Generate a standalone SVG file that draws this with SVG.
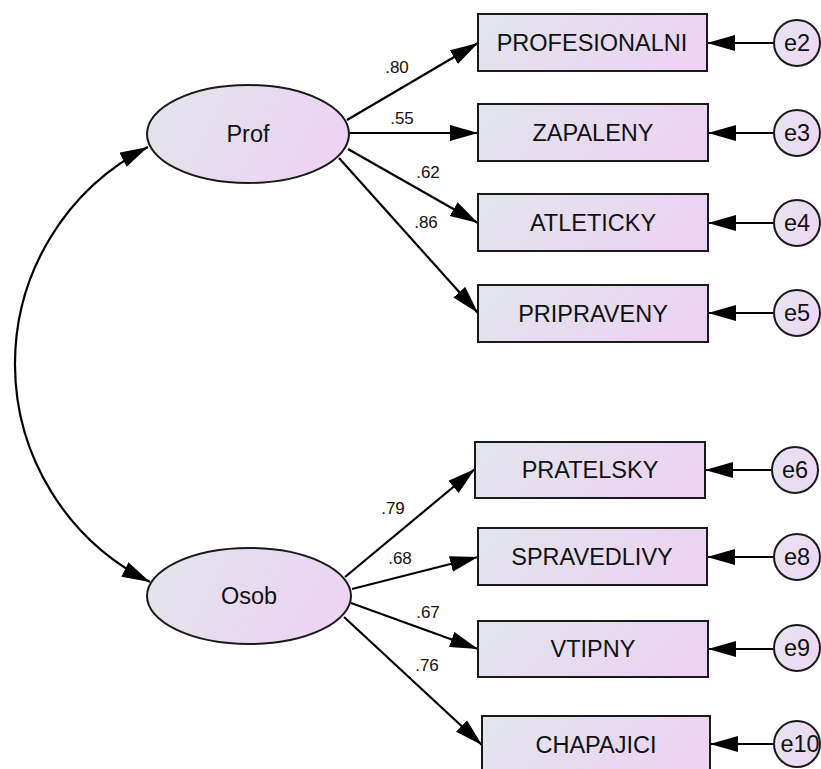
<svg xmlns="http://www.w3.org/2000/svg" width="821" height="769" viewBox="0 0 821 769">
<defs>
<linearGradient id="g" x1="0" y1="0" x2="1" y2="0.25">
<stop offset="0" stop-color="#e1e5ec"/>
<stop offset="1" stop-color="#ecd4f2"/>
</linearGradient>
<linearGradient id="gc" x1="0" y1="0" x2="1" y2="0.3">
<stop offset="0" stop-color="#e6e4f0"/>
<stop offset="1" stop-color="#eed8f4"/>
</linearGradient>
<marker id="ah" markerUnits="userSpaceOnUse" markerWidth="30" markerHeight="18" refX="28" refY="8" orient="auto-start-reverse">
<path d="M0,0 L28,8 L0,16 z" fill="#000"/>
</marker>
<style>
.n{fill:url(#g);stroke:#1a1a1a;stroke-width:2}
.c{fill:url(#gc);stroke:#1a1a1a;stroke-width:2}
.t{font-family:"Liberation Sans",Arial,sans-serif;font-size:23.5px;fill:#111;text-anchor:middle}
.l{font-family:"Liberation Sans",Arial,sans-serif;font-size:17px;fill:#111;text-anchor:middle}
.e{stroke:#000;stroke-width:2.2;fill:none;marker-end:url(#ah)}
</style>
</defs>
<rect width="821" height="769" fill="#fff"/>
<g id="connectors">
<path class="e" d="M347,120 L478,43"/>
<path class="e" d="M349,133 L478,133"/>
<path class="e" d="M348,149 L478,223"/>
<path class="e" d="M339,158 L478,313"/>
<path class="e" d="M345,577 L475,469"/>
<path class="e" d="M352,589 L478,557"/>
<path class="e" d="M351,603 L478,649"/>
<path class="e" d="M344,617 L482,745"/>
<path class="e" style="marker-start:url(#ah)" d="M148,147 A243.5,243.5 0 0 0 150,582"/>
<path class="e" d="M774,43 L707,43"/>
<path class="e" d="M774,133 L708,133"/>
<path class="e" d="M774,223 L708,223"/>
<path class="e" d="M774,313 L708,313"/>
<path class="e" d="M772,470 L705,470"/>
<path class="e" d="M774,557 L707,557"/>
<path class="e" d="M774,649 L708,649"/>
<path class="e" d="M774,744 L710,744"/>
<text class="l" x="397" y="73">.80</text>
<text class="l" x="402" y="124">.55</text>
<text class="l" x="428" y="178">.62</text>
<text class="l" x="426" y="228">.86</text>
<text class="l" x="393" y="514">.79</text>
<text class="l" x="400" y="564">.68</text>
<text class="l" x="428" y="618">.67</text>
<text class="l" x="427" y="671">.76</text>
</g>
<g id="Prof"><ellipse class="n" cx="248" cy="134" rx="101" ry="49"/><text class="t" x="248" y="142">Prof</text></g>
<g id="Osob"><ellipse class="n" cx="249" cy="596" rx="102" ry="48"/><text class="t" x="249" y="604">Osob</text></g>
<g id="PROFESIONALNI"><rect class="n" x="478" y="14" width="229" height="57"/><text class="t" x="592" y="51">PROFESIONALNI</text></g>
<g id="ZAPALENY"><rect class="n" x="478" y="104" width="230" height="57"/><text class="t" x="593" y="141">ZAPALENY</text></g>
<g id="ATLETICKY"><rect class="n" x="478" y="194" width="230" height="57"/><text class="t" x="593" y="231">ATLETICKY</text></g>
<g id="PRIPRAVENY"><rect class="n" x="478" y="285" width="230" height="57"/><text class="t" x="593" y="322">PRIPRAVENY</text></g>
<g id="PRATELSKY"><rect class="n" x="475" y="442" width="230" height="56"/><text class="t" x="590" y="478">PRATELSKY</text></g>
<g id="SPRAVEDLIVY"><rect class="n" x="478" y="528" width="229" height="57"/><text class="t" x="592" y="565">SPRAVEDLIVY</text></g>
<g id="VTIPNY"><rect class="n" x="478" y="621" width="230" height="56"/><text class="t" x="593" y="657">VTIPNY</text></g>
<g id="CHAPAJICI"><rect class="n" x="482" y="716" width="228" height="57"/><text class="t" x="596" y="753">CHAPAJICI</text></g>
<g id="e2"><circle class="c" cx="797" cy="43" r="23"/><text class="t" x="797" y="51">e2</text></g>
<g id="e3"><circle class="c" cx="797" cy="133" r="23"/><text class="t" x="797" y="141">e3</text></g>
<g id="e4"><circle class="c" cx="797" cy="223" r="23"/><text class="t" x="797" y="231">e4</text></g>
<g id="e5"><circle class="c" cx="797" cy="313" r="23"/><text class="t" x="797" y="321">e5</text></g>
<g id="e6"><circle class="c" cx="795" cy="470" r="23"/><text class="t" x="795" y="478">e6</text></g>
<g id="e8"><circle class="c" cx="797" cy="557" r="23"/><text class="t" x="797" y="565">e8</text></g>
<g id="e9"><circle class="c" cx="797" cy="648" r="23"/><text class="t" x="797" y="656">e9</text></g>
<g id="e10"><circle class="c" cx="797" cy="744" r="23"/><text class="t" x="800" y="752">e10</text></g>
</svg>
